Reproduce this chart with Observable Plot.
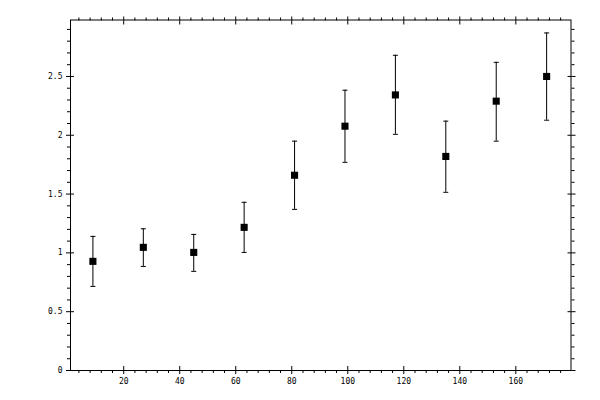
<!DOCTYPE html>
<html>
<head>
<meta charset="utf-8">
<script src="https://cdn.jsdelivr.net/npm/d3@7"></script>
<script src="https://cdn.jsdelivr.net/npm/@observablehq/plot@0.6"></script>
<style>
  html, body { margin: 0; padding: 0; background: #fff; }
  svg { display: block; }
</style>
</head>
<body>
<div id="chart"></div>
<script>
const xs    = [9, 27, 45, 63, 81, 99, 117, 135, 153, 171];
const ys    = [0.928, 1.047, 1.004, 1.217, 1.66, 2.077, 2.343, 1.82, 2.29, 2.50];
const lows  = [0.715, 0.885, 0.843, 1.004, 1.37, 1.77, 2.008, 1.515, 1.95, 2.128];
const highs = [1.14, 1.205, 1.157, 1.43, 1.95, 2.383, 2.68, 2.12, 2.62, 2.87];

const xMajor = [20, 40, 60, 80, 100, 120, 140, 160];
const xMinor = d3.range(4, 180, 4).filter(v => v % 20 !== 0);
const yMajor = [0, 0.5, 1, 1.5, 2, 2.5];
const yMinor = d3.range(1, 30).map(i => i / 10).filter(v => Math.round(v * 10) % 5 !== 0);
const yLabels = ["0", "0.5", "1", "1.5", "2", "2.5"];

const data = xs.map((x, i) => ({x, y: ys[i], lo: lows[i], hi: highs[i]}));

const cap = {
  draw(ctx) { ctx.moveTo(-2.5, 0); ctx.lineTo(2.5, 0); }
};

const font = "DejaVu Sans Mono";
const none = () => "";

const chart = Plot.plot({
  width: 600,
  height: 400,
  marginLeft: 70,
  marginRight: 29.5,
  marginTop: 19.5,
  marginBottom: 30,
  style: {fontFamily: font, fontSize: "8px", color: "#000", background: "#fff"},
  x: {domain: [1, 179.7]},
  y: {domain: [0, 2.98]},
  marks: [
    Plot.frame({stroke: "#000"}),
    // bottom axis
    Plot.axisX({anchor: "bottom", ticks: xMajor, tickSize: 4, tickPadding: 4, tickFormat: d => String(d), label: null}),
    Plot.axisX({anchor: "bottom", ticks: xMajor, tickSize: -4, tickFormat: none, label: null}),
    Plot.axisX({anchor: "bottom", ticks: xMinor, tickSize: 3, tickFormat: none, label: null}),
    // top axis
    Plot.axisX({anchor: "top", ticks: xMajor, tickSize: 4, tickFormat: none, label: null}),
    Plot.axisX({anchor: "top", ticks: xMajor, tickSize: -4, tickFormat: none, label: null}),
    Plot.axisX({anchor: "top", ticks: xMinor, tickSize: 3, tickFormat: none, label: null}),
    // left axis
    Plot.axisY({anchor: "left", ticks: yMajor, tickSize: 4, tickPadding: 4, tickFormat: d => yLabels[yMajor.indexOf(d)], label: null}),
    Plot.axisY({anchor: "left", ticks: yMajor, tickSize: -4, tickFormat: none, label: null}),
    Plot.axisY({anchor: "left", ticks: yMinor, tickSize: 3, tickFormat: none, label: null}),
    // right axis
    Plot.axisY({anchor: "right", ticks: yMajor, tickSize: 4, tickFormat: none, label: null}),
    Plot.axisY({anchor: "right", ticks: yMajor, tickSize: -4, tickFormat: none, label: null}),
    Plot.axisY({anchor: "right", ticks: yMinor, tickSize: 3, tickFormat: none, label: null}),
    // error bars
    Plot.ruleX(data, {x: "x", y1: "lo", y2: "hi", stroke: "#000", strokeWidth: 1}),
    Plot.dot(data, {x: "x", y: "hi", symbol: cap, stroke: "#000", strokeWidth: 1, r: 3}),
    Plot.dot(data, {x: "x", y: "lo", symbol: cap, stroke: "#000", strokeWidth: 1, r: 3}),
    // points
    Plot.dot(data, {x: "x", y: "y", symbol: "square", fill: "#000", stroke: "none", r: 4})
  ]
});
document.getElementById("chart").appendChild(chart);
</script>
</body>
</html>
